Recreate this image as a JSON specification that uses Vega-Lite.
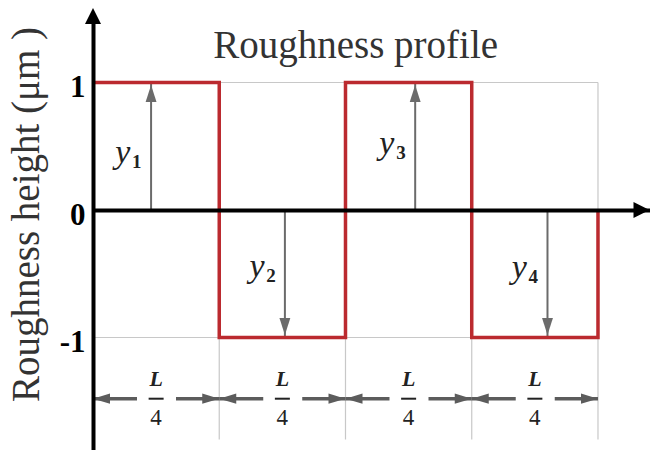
{
  "$schema": "https://vega.github.io/schema/vega-lite/v6.json",
  "autosize": {"type": "none"},
  "padding": {"left": 93, "top": 14, "right": 0, "bottom": 0},
  "width": 557,
  "height": 436,
  "background": "white",
  "config": {"view": {"stroke": null}},
  "datasets": {
    "profile": [
      {"i": 0, "x": 0, "y": 1},
      {"i": 1, "x": 0.25, "y": 1},
      {"i": 2, "x": 0.25, "y": -1},
      {"i": 3, "x": 0.5, "y": -1},
      {"i": 4, "x": 0.5, "y": 1},
      {"i": 5, "x": 0.75, "y": 1},
      {"i": 6, "x": 0.75, "y": -1},
      {"i": 7, "x": 1, "y": -1},
      {"i": 8, "x": 1, "y": 0}
    ],
    "grid": [
      {"x": 0, "x2": 1, "y": 1, "y2": 1},
      {"x": 0, "x2": 1, "y": -1, "y2": -1},
      {"x": 0.25, "x2": 0.25, "y": 1, "y2": -1.8},
      {"x": 0.5, "x2": 0.5, "y": 1, "y2": -1.8},
      {"x": 0.75, "x2": 0.75, "y": 1, "y2": -1.8},
      {"x": 1, "x2": 1, "y": 1, "y2": -1.8}
    ],
    "heights": [
      {"x": 0.115, "y": 1},
      {"x": 0.38, "y": -1},
      {"x": 0.638, "y": 1},
      {"x": 0.9, "y": -1}
    ],
    "labels": [
      {"x": 0.059, "y": 0.45, "sub": "1"},
      {"x": 0.325, "y": -0.45, "sub": "2"},
      {"x": 0.582, "y": 0.52, "sub": "3"},
      {"x": 0.844, "y": -0.455, "sub": "4"}
    ],
    "spans": [
      {"from": 0, "to": 0.25, "mid": 0.125},
      {"from": 0.25, "to": 0.5, "mid": 0.375},
      {"from": 0.5, "to": 0.75, "mid": 0.625},
      {"from": 0.75, "to": 1, "mid": 0.875}
    ]
  },
  "layer": [
    {
      "data": {"name": "grid"},
      "mark": {"type": "rule", "color": "#c8c8c8", "strokeWidth": 1.2},
      "encoding": {
        "x": {"field": "x", "type": "quantitative", "scale": {"domain": [0, 1.103], "nice": false, "zero": false}},
        "x2": {"field": "x2"},
        "y": {"field": "y", "type": "quantitative", "scale": {"domain": [-1.8824, 1.5373], "nice": false, "zero": false}},
        "y2": {"field": "y2"}
      }
    },
    {
      "data": {"name": "heights"},
      "mark": {"type": "rule", "color": "#6b6b6b", "strokeWidth": 2},
      "encoding": {
        "x": {"field": "x", "type": "quantitative", "scale": {"domain": [0, 1.103], "nice": false, "zero": false}},
        "y": {"field": "y", "type": "quantitative", "scale": {"domain": [-1.8824, 1.5373], "nice": false, "zero": false}},
        "y2": {"datum": 0}
      }
    },
    {
      "data": {"name": "heights"},
      "mark": {"type": "point", "filled": true, "opacity": 1, "size": 1156, "color": "#6b6b6b", "strokeWidth": 0},
      "encoding": {
        "x": {"field": "x", "type": "quantitative", "scale": {"domain": [0, 1.103], "nice": false, "zero": false}},
        "y": {"field": "y", "type": "quantitative", "scale": {"domain": [-1.8824, 1.5373], "nice": false, "zero": false}},
        "shape": {
          "condition": {"test": "datum.y > 0", "value": "M0,0.15L0.32,1.15L-0.32,1.15Z"},
          "value": "M0,-0.15L0.32,-1.15L-0.32,-1.15Z"
        }
      }
    },
    {
      "data": {"name": "profile"},
      "mark": {"type": "line", "color": "#bb2a2f", "strokeWidth": 3.5, "strokeJoin": "miter"},
      "encoding": {
        "x": {
          "field": "x", "type": "quantitative",
          "scale": {"domain": [0, 1.103], "nice": false, "zero": false},
          "axis": {"orient": "bottom", "offset": -240, "domain": true, "domainColor": "black", "domainWidth": 4,
                   "ticks": false, "labels": false, "grid": false, "title": null, "zindex": 1}
        },
        "y": {
          "field": "y", "type": "quantitative",
          "scale": {"domain": [-1.8824, 1.5373], "nice": false, "zero": false},
          "axis": {"orient": "left", "values": [-1, 0, 1], "domain": true, "domainColor": "black", "domainWidth": 4,
                   "ticks": false, "grid": false,
                   "labelFont": "Liberation Serif", "labelFontSize": 31, "labelFontWeight": "bold", "labelColor": "black",
                   "labelPadding": 8, "labelOffset": 5,
                   "labelExpr": "datum.value < 0 ? '-' + abs(datum.value) : '' + datum.value",
                   "title": "Roughness height (μm )", "titleFont": "Liberation Serif", "titleFontSize": 39,
                   "titleFontWeight": "normal", "titleColor": "#333333", "titleAngle": -90,
                   "titleX": -47, "titleY": 200, "titleAlign": "center", "titleBaseline": "bottom", "zindex": 1}
        },
        "order": {"field": "i"}
      }
    },
    {
      "data": {"values": [{}]},
      "mark": {"type": "point", "shape": "M0,0L0.5,1L-0.5,1Z", "size": 1024, "filled": true, "opacity": 1, "color": "black", "strokeWidth": 0},
      "encoding": {
        "x": {"datum": 0, "type": "quantitative", "scale": {"domain": [0, 1.103], "nice": false, "zero": false}},
        "y": {"datum": 1.584, "type": "quantitative", "scale": {"domain": [-1.8824, 1.5373], "nice": false, "zero": false}}
      }
    },
    {
      "data": {"values": [{}]},
      "mark": {"type": "point", "shape": "M0,0L-1,0.5L-1,-0.5Z", "size": 1024, "filled": true, "opacity": 1, "color": "black", "strokeWidth": 0},
      "encoding": {
        "x": {"datum": 1.102, "type": "quantitative", "scale": {"domain": [0, 1.103], "nice": false, "zero": false}},
        "y": {"datum": 0, "type": "quantitative", "scale": {"domain": [-1.8824, 1.5373], "nice": false, "zero": false}}
      }
    },
    {
      "data": {"name": "spans"},
      "mark": {"type": "rule", "color": "#5c5c5c", "strokeWidth": 3.5, "strokeDash": [44, 39]},
      "encoding": {
        "x": {"field": "from", "type": "quantitative", "scale": {"domain": [0, 1.103], "nice": false, "zero": false}},
        "x2": {"field": "to"},
        "y": {"datum": -1.48, "type": "quantitative", "scale": {"domain": [-1.8824, 1.5373], "nice": false, "zero": false}}
      }
    },
    {
      "data": {"name": "spans"},
      "mark": {"type": "point", "shape": "M0,0L1,0.3L1,-0.3Z", "size": 1156, "filled": true, "opacity": 1, "color": "#5c5c5c", "strokeWidth": 0},
      "encoding": {
        "x": {"field": "from", "type": "quantitative", "scale": {"domain": [0, 1.103], "nice": false, "zero": false}},
        "y": {"datum": -1.48, "type": "quantitative", "scale": {"domain": [-1.8824, 1.5373], "nice": false, "zero": false}}
      }
    },
    {
      "data": {"name": "spans"},
      "mark": {"type": "point", "shape": "M0,0L-1,0.3L-1,-0.3Z", "size": 1156, "filled": true, "opacity": 1, "color": "#5c5c5c", "strokeWidth": 0},
      "encoding": {
        "x": {"field": "to", "type": "quantitative", "scale": {"domain": [0, 1.103], "nice": false, "zero": false}},
        "y": {"datum": -1.48, "type": "quantitative", "scale": {"domain": [-1.8824, 1.5373], "nice": false, "zero": false}}
      }
    },
    {
      "data": {"name": "spans"},
      "mark": {"type": "tick", "orient": "horizontal", "size": 15, "thickness": 2, "color": "#222222", "opacity": 1},
      "encoding": {
        "x": {"field": "mid", "type": "quantitative", "scale": {"domain": [0, 1.103], "nice": false, "zero": false}},
        "y": {"datum": -1.48, "type": "quantitative", "scale": {"domain": [-1.8824, 1.5373], "nice": false, "zero": false}}
      }
    },
    {
      "data": {"name": "spans"},
      "mark": {"type": "text", "text": "L", "font": "Liberation Serif", "fontStyle": "italic", "fontWeight": "bold", "fontSize": 22, "color": "#222222", "align": "center", "baseline": "middle", "dy": -20},
      "encoding": {
        "x": {"field": "mid", "type": "quantitative", "scale": {"domain": [0, 1.103], "nice": false, "zero": false}},
        "y": {"datum": -1.48, "type": "quantitative", "scale": {"domain": [-1.8824, 1.5373], "nice": false, "zero": false}}
      }
    },
    {
      "data": {"name": "spans"},
      "mark": {"type": "text", "text": "4", "font": "Liberation Serif", "fontSize": 23, "color": "#222222", "align": "center", "baseline": "middle", "dy": 19},
      "encoding": {
        "x": {"field": "mid", "type": "quantitative", "scale": {"domain": [0, 1.103], "nice": false, "zero": false}},
        "y": {"datum": -1.48, "type": "quantitative", "scale": {"domain": [-1.8824, 1.5373], "nice": false, "zero": false}}
      }
    },
    {
      "data": {"name": "labels"},
      "mark": {"type": "text", "text": "y", "font": "Liberation Serif", "fontStyle": "italic", "fontSize": 34, "color": "#222222", "align": "center", "baseline": "middle"},
      "encoding": {
        "x": {"field": "x", "type": "quantitative", "scale": {"domain": [0, 1.103], "nice": false, "zero": false}},
        "y": {"field": "y", "type": "quantitative", "scale": {"domain": [-1.8824, 1.5373], "nice": false, "zero": false}}
      }
    },
    {
      "data": {"name": "labels"},
      "mark": {"type": "text", "font": "Liberation Serif", "fontWeight": "bold", "fontSize": 19, "color": "#222222", "align": "center", "baseline": "middle", "dx": 14, "dy": 9},
      "encoding": {
        "x": {"field": "x", "type": "quantitative", "scale": {"domain": [0, 1.103], "nice": false, "zero": false}},
        "y": {"field": "y", "type": "quantitative", "scale": {"domain": [-1.8824, 1.5373], "nice": false, "zero": false}},
        "text": {"field": "sub"}
      }
    },
    {
      "data": {"values": [{}]},
      "mark": {"type": "text", "text": "Roughness profile", "font": "Liberation Serif", "fontSize": 39, "color": "#333333", "align": "center", "baseline": "alphabetic"},
      "encoding": {
        "x": {"datum": 0.52, "type": "quantitative", "scale": {"domain": [0, 1.103], "nice": false, "zero": false}},
        "y": {"datum": 1.19, "type": "quantitative", "scale": {"domain": [-1.8824, 1.5373], "nice": false, "zero": false}}
      }
    }
  ]
}
